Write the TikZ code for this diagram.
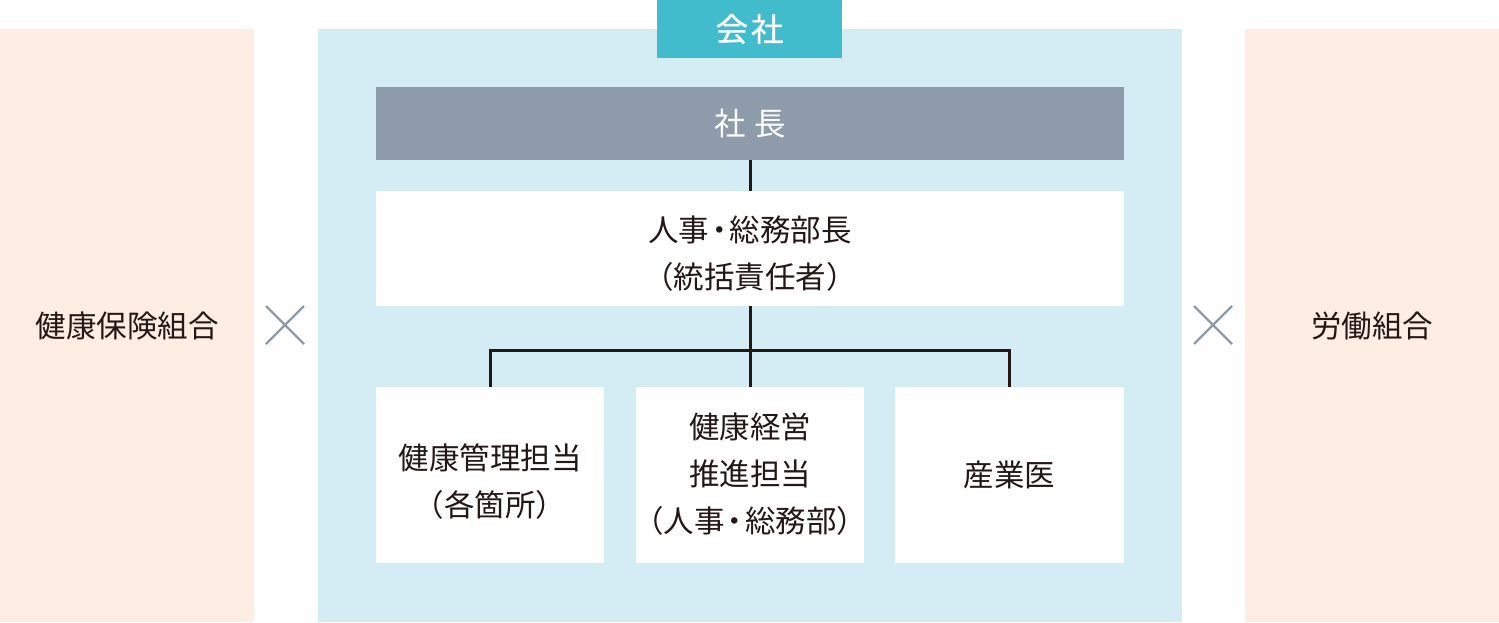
\documentclass[tikz,border=0pt]{standalone}
\usepackage{fontspec}
\setmainfont{Noto Sans CJK JP}
\newfontfamily\medfont[FakeBold=0.6]{Noto Sans CJK JP}
\newcommand{\mdot}{\kern-5pt・\kern-5pt}
\begin{document}
\begin{tikzpicture}[x=1pt,y=-1pt,
  every node/.style={inner sep=0pt,outer sep=0pt,font=\fontsize{30.5}{47}\selectfont,text=ink,align=center},
  box/.style={rectangle,fill=white,draw=none},
  conn/.style={draw=ink,line width=3pt},
  cross/.style={draw=crossc,line width=2.4pt}]
\definecolor{ink}{HTML}{231815}
\definecolor{peach}{HTML}{FDEDE3}
\definecolor{lblue}{HTML}{D4EDF4}
\definecolor{teal}{HTML}{41BCCD}
\definecolor{slate}{HTML}{8E9BAA}
\definecolor{crossc}{HTML}{8C9AA9}
\useasboundingbox (0,0) rectangle (1499,622);
\fill[white] (0,0) rectangle (1499,622);
% side boxes
\node[rectangle,fill=peach,minimum width=254pt,minimum height=593pt] (kenpo) at (127,325.5) {健康保険組合};
\node[rectangle,fill=peach,minimum width=254pt,minimum height=593pt] (roso) at (1372,325.5) {労働組合};
% company
\node[rectangle,fill=lblue,minimum width=864pt,minimum height=593pt] (company) at (750,325.5) {};
\node[rectangle,fill=teal,minimum width=185pt,minimum height=58pt,text=white,font=\fontsize{32.5}{33}\selectfont\medfont] (kaisha) at (749.5,29) {会\hspace{3pt}社};
\node[rectangle,fill=slate,minimum width=748pt,minimum height=73pt,text=white,font=\fontsize{31.5}{32}\selectfont] (shacho) at (750,123.5) {社\hspace{9pt}長};
\node[box,minimum width=748pt,minimum height=115pt] (bucho) at (750,248.5) {};
\node (buchot) at (750,254) {人事\mdot 総務部長\\（統括責任者）};
\node[box,minimum width=228pt,minimum height=176pt] (b1) at (490,475) {};
\node (b1t) at (490,482) {健康管理担当\\（各箇所）};
\node[box,minimum width=228pt,minimum height=176pt] (b2) at (750,475) {};
\node (b2t) at (750,474) {健康経営\\推進担当\\（人事\mdot 総務部）};
\node[box,minimum width=229pt,minimum height=176pt] (b3) at (1009.5,475) {};
\node (b3t) at (1009.5,475) {産業医};
% connectors
\coordinate (hub) at (750,350);
\draw[conn] (shacho.south) -- (bucho.north);
\draw[conn] (bucho.south) -- (b2.north);
\draw[conn] (b1.north) |- (hub) -| (b3.north);
% crosses
\coordinate (c1a) at (266,306); \coordinate (c1b) at (304,344);
\coordinate (c1c) at (266,344); \coordinate (c1d) at (304,306);
\draw[cross] (c1a) -- (c1b); \draw[cross] (c1c) -- (c1d);
\coordinate (c2a) at (1194,306); \coordinate (c2b) at (1232,344);
\coordinate (c2c) at (1194,344); \coordinate (c2d) at (1232,306);
\draw[cross] (c2a) -- (c2b); \draw[cross] (c2c) -- (c2d);
\end{tikzpicture}
\end{document}
